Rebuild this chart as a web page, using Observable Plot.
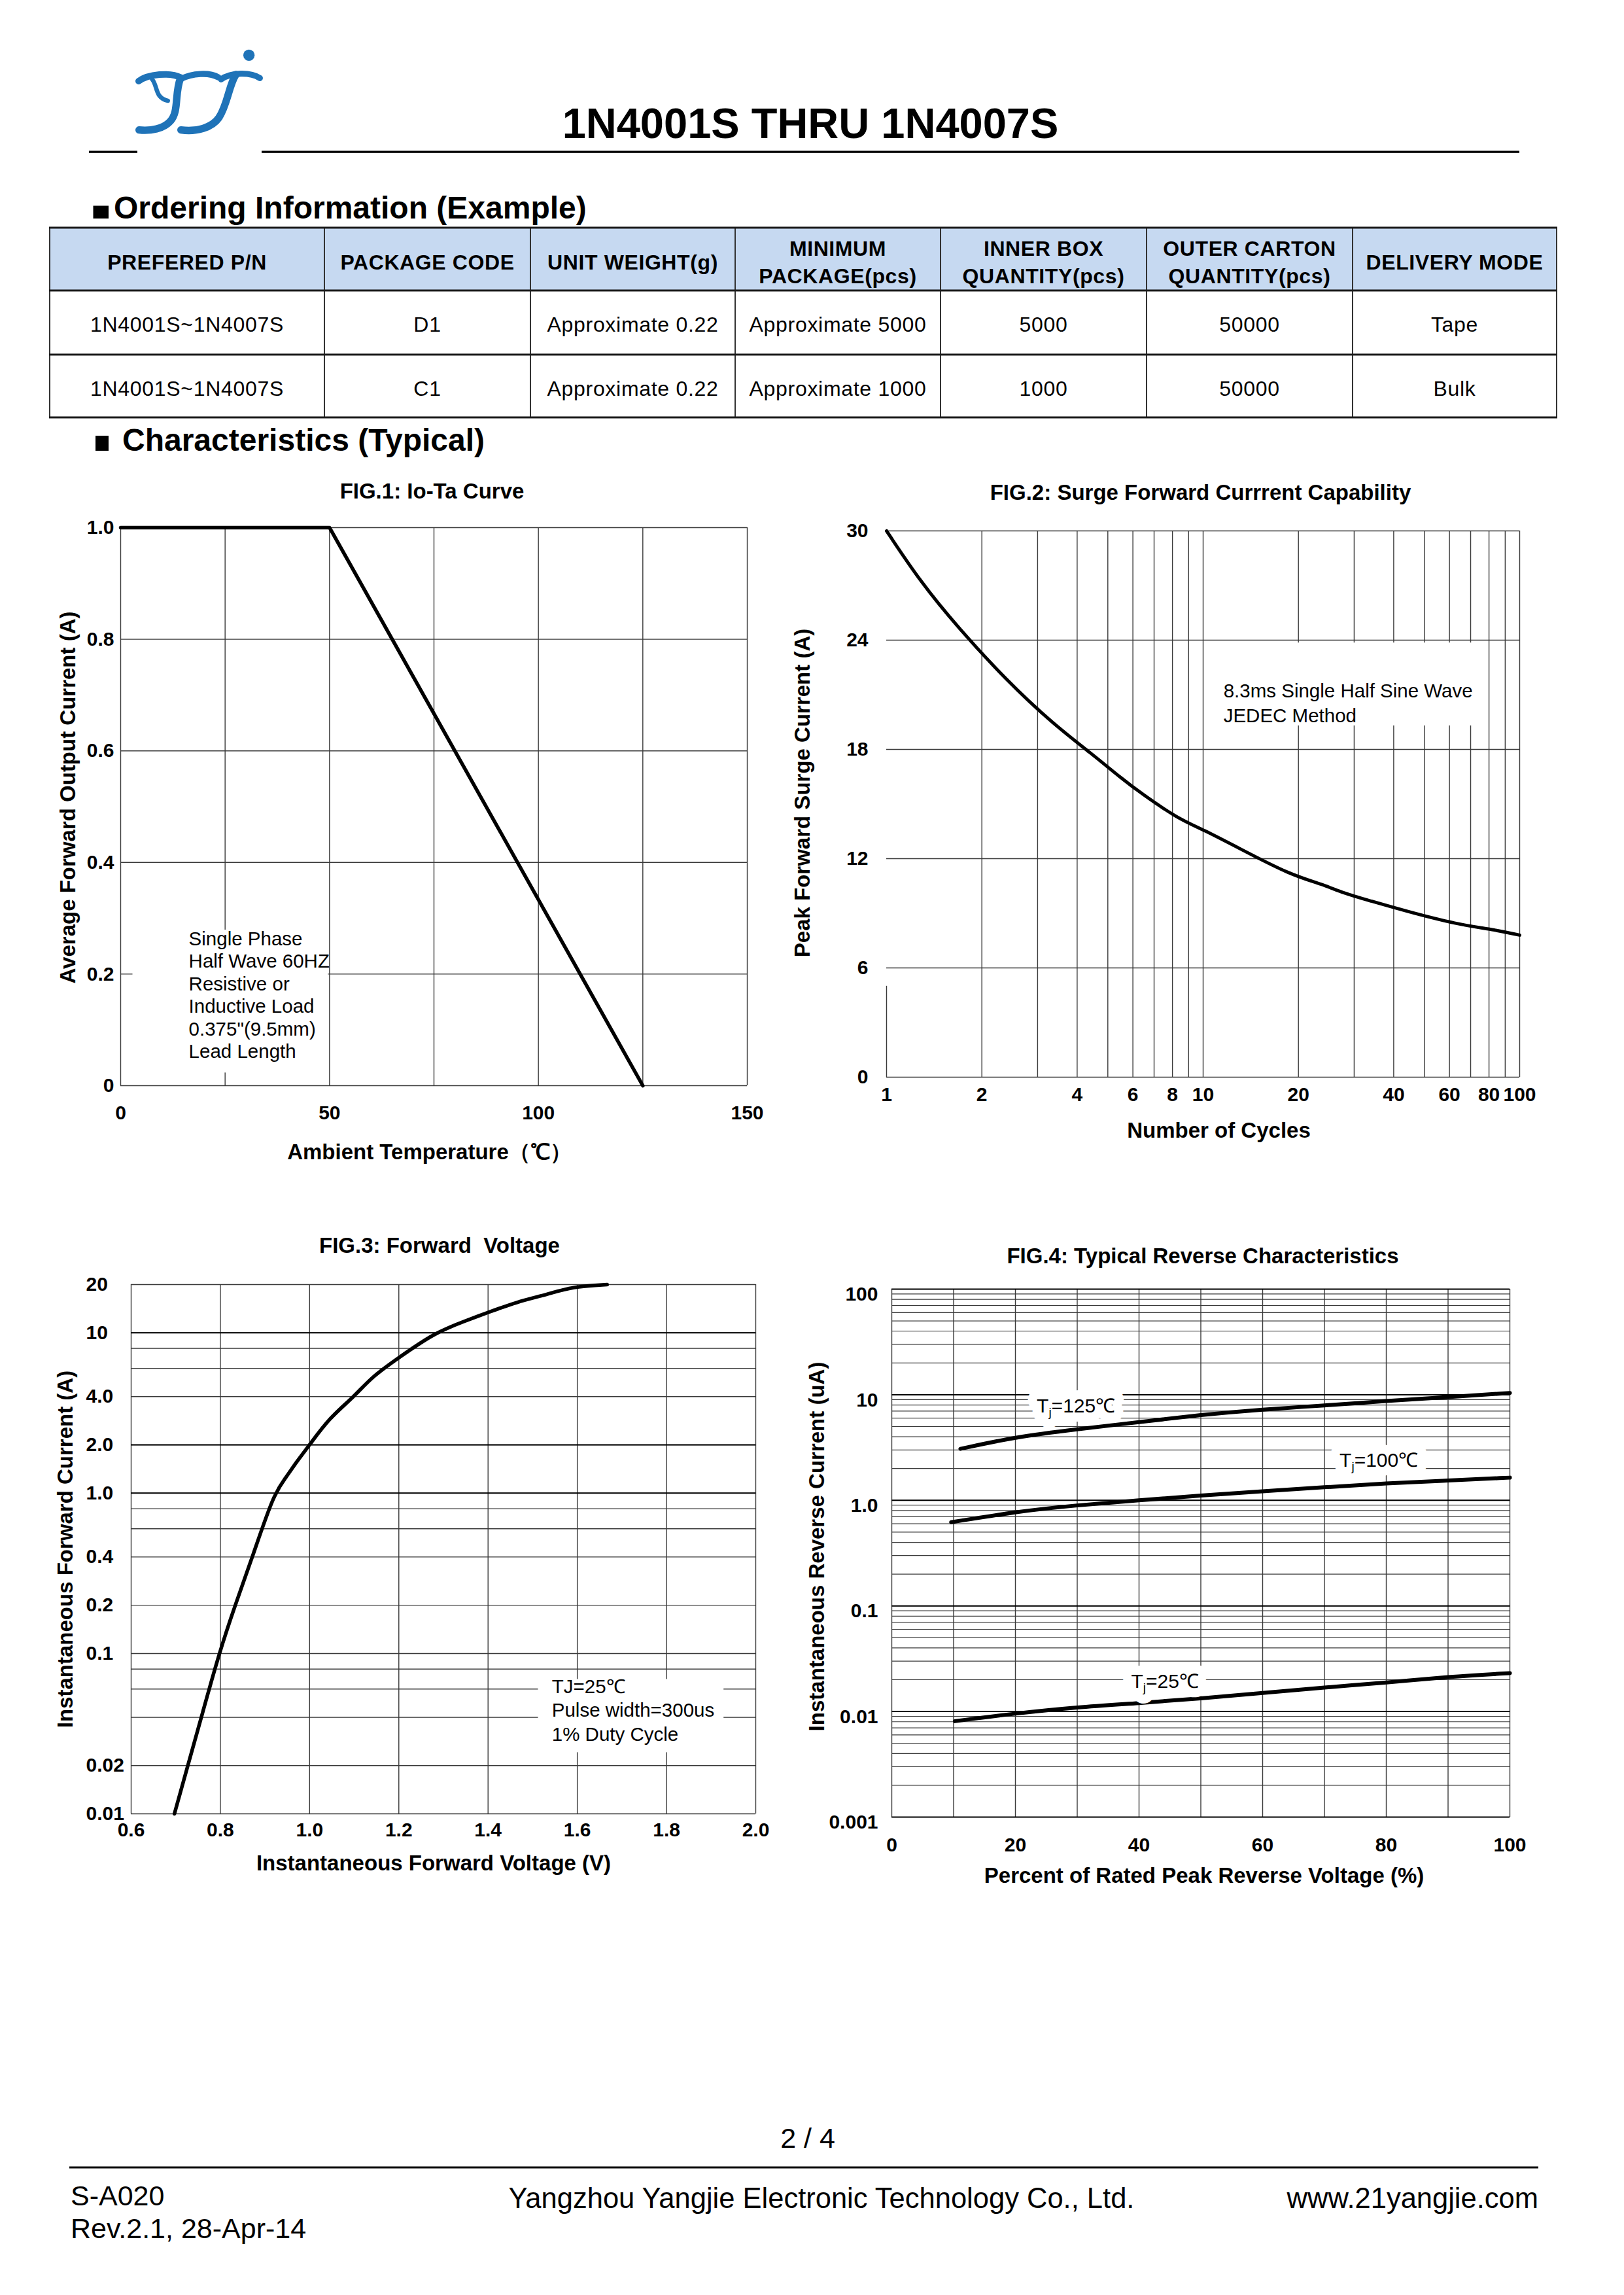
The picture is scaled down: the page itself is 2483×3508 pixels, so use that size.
<!DOCTYPE html>
<html><head><meta charset="utf-8">
<script src="https://cdn.jsdelivr.net/npm/d3@7"></script>
<script src="https://cdn.jsdelivr.net/npm/@observablehq/plot@0.6"></script>
<style>
html,body{margin:0;padding:0;background:#fff;}
#page{position:relative;width:2483px;height:3508px;background:#fff;overflow:hidden;}
.fig{position:absolute;}
</style></head><body><div id="page"></div>
<script>
// ---------------- DATA ----------------
// Ordering table
const tableHeaders = [["PREFERED P/N"],["PACKAGE CODE"],["UNIT WEIGHT(g)"],["MINIMUM","PACKAGE(pcs)"],["INNER BOX","QUANTITY(pcs)"],["OUTER CARTON","QUANTITY(pcs)"],["DELIVERY MODE"]];
const tableRow1 = ["1N4001S~1N4007S","D1","Approximate 0.22","Approximate 5000","5000","50000","Tape"];
const tableRow2 = ["1N4001S~1N4007S","C1","Approximate 0.22","Approximate 1000","1000","50000","Bulk"];

// FIG.1 Io-Ta curve
const fig1Temp = [0, 50, 125];
const fig1Current = [1.0, 1.0, 0];
const fig1XTicks = [0, 50, 100, 150];
const fig1YTicks = [0, 0.2, 0.4, 0.6, 0.8, 1.0];
const fig1YTickLabels = ["0", "0.2", "0.4", "0.6", "0.8", "1.0"];
const fig1XGrid = [0, 25, 50, 75, 100, 125, 150];
const fig1YGrid = [0, 0.2, 0.4, 0.6, 0.8, 1.0];

// FIG.2 Surge forward current (cycles read on the log decades 1 / 10 / 100)
const fig2Cycles = [1, 1.28, 1.68, 2.39, 3.36, 4.42, 5.53, 6.36, 8.32, 10, 12.9, 18.9, 23.8, 27.8, 33.5, 44.1, 63.2, 83, 100];
const fig2Current = [30, 27.2, 24.7, 21.8, 19.4, 17.8, 16.4, 15.6, 14.2, 13.6, 12.6, 11.1, 10.6, 10.1, 9.7, 9.1, 8.4, 8.1, 7.8];
const fig2XTicks = [1, 2, 4, 6, 8, 10, 20, 40, 60, 80, 100];
const fig2YTicks = [0, 6, 12, 18, 24, 30];
const fig2XGrid = [2, 3, 4, 5, 6, 7, 8, 9, 10, 20, 30, 40, 50, 60, 70, 80, 90, 100];
const fig2YGrid = [0, 6, 12, 18, 24, 30];

// FIG.3 Forward voltage
const fig3Voltage = [0.697, 0.727, 0.76, 0.797, 0.833, 0.872, 0.92, 0.948, 0.97, 1.0, 1.044, 1.10, 1.14, 1.20, 1.28, 1.35, 1.40, 1.465, 1.524, 1.556, 1.60, 1.667];
const fig3Current = [0.01, 0.02, 0.0425, 0.1, 0.2, 0.4, 1.0, 1.26, 1.56, 2.0, 2.94, 4.0, 5.33, 7.0, 10, 11.9, 13.4, 15.6, 17.1, 18.2, 19.5, 20];
const fig3XTicks = [0.6, 0.8, 1.0, 1.2, 1.4, 1.6, 1.8, 2.0];
const fig3XTickLabels = ["0.6", "0.8", "1.0", "1.2", "1.4", "1.6", "1.8", "2.0"];
const fig3YTicks = [20, 10, 4, 2, 1, 0.4, 0.2, 0.1, 0.02, 0.01];
const fig3YTickLabels = ["20", "10", "4.0", "2.0", "1.0", "0.4", "0.2", "0.1", "0.02", "0.01"];
const fig3XGrid = [0.6, 0.8, 1.0, 1.2, 1.4, 1.6, 1.8, 2.0];
const fig3YGrid = [0.01, 0.02, 0.04, 0.06, 0.08, 0.1, 0.2, 0.4, 0.6, 0.8, 1, 2, 4, 6, 8, 10, 20];
const fig3YGridBold = [1, 2, 10];

// FIG.4 Reverse characteristics
const fig4Pct125 = [11.1, 20, 30, 40, 50, 60, 70, 80, 90, 100];
const fig4Cur125 = [3.07, 3.98, 4.72, 5.5, 6.45, 7.27, 7.9, 8.75, 9.5, 10.4];
const fig4Pct100 = [9.6, 20, 30, 40, 50, 60, 70, 80, 90, 100];
const fig4Cur100 = [0.62, 0.78, 0.90, 1.0, 1.11, 1.22, 1.33, 1.45, 1.54, 1.64];
const fig4Pct25 = [10.2, 20, 30, 40, 50, 60, 70, 80, 90, 100];
const fig4Cur25 = [0.0081, 0.0096, 0.011, 0.012, 0.0133, 0.015, 0.0169, 0.0188, 0.0213, 0.0231];
const fig4XTicks = [0, 20, 40, 60, 80, 100];
const fig4YTicks = [100, 10, 1, 0.1, 0.01, 0.001];
const fig4YTickLabels = ["100", "10", "1.0", "0.1", "0.01", "0.001"];
const fig4XGrid = [0, 10, 20, 30, 40, 50, 60, 70, 80, 90, 100];
const fig4Decades = [0.001, 0.01, 0.1, 1, 10, 100];

// ---------------- ANNOTATIONS (data units) ----------------
const fig1Note = {text: "Single Phase\nHalf Wave 60HZ\nResistive or\nInductive Load\n0.375\"(9.5mm)\nLead Length", x: 16.3, y: 0.1635, x1: 2.9, x2: 49.7, y1: 0.023, y2: 0.279};
const fig2Note = {text: "8.3ms Single Half Sine Wave\nJEDEC Method", x: 11.6, y: 20.6, x1: 11.2, x2: 75, y1: 19.3, y2: 23.85};
const fig3Note = {text: "TJ=25\u2103\nPulse width=300us\n1% Duty Cycle", x: 1.543, y: 0.0449, x1: 1.5126, x2: 1.9285, y1: 0.0241, y2: 0.069};
const fig4Labels = [{text: "Tj=125\u2103", x: 29.8, y: 7.76}, {text: "Tj=100\u2103", x: 78.8, y: 2.4}, {text: "Tj=25\u2103", x: 44.2, y: 0.0193}];

// ---------------- PAGE ----------------
const FONT = '"Liberation Sans", Arial, Helvetica, sans-serif';
const page = d3.select("#page");
const ps = page.append("svg").attr("width", 2483).attr("height", 3508)
  .style("position", "absolute").style("left", "0px").style("top", "0px")
  .attr("font-family", FONT);

// logo
const logo = ps.append("g").attr("transform", "translate(120,50) scale(0.3333)")
  .attr("fill", "none").attr("stroke", "#1F73B8").attr("stroke-linecap", "round");
logo.append("path").attr("d", "M276,222 C320,190 420,180 470,206").attr("stroke-width", 30);
logo.append("path").attr("d", "M338,214 C364,244 350,300 410,312").attr("stroke-width", 20);
logo.append("path").attr("d", "M468,208 C440,280 462,360 422,405 C392,440 330,452 278,446").attr("stroke-width", 34);
logo.append("path").attr("d", "M470,212 C520,186 600,180 642,205").attr("stroke-width", 28);
logo.append("path").attr("d", "M722,192 C690,240 684,330 644,390 C612,436 540,456 470,446").attr("stroke-width", 34);
logo.append("path").attr("d", "M654,214 C700,180 790,180 832,208").attr("stroke-width", 28);
logo.append("circle").attr("cx", 782).attr("cy", 103).attr("r", 26).attr("fill", "#1F73B8").attr("stroke", "none");

// title + header line
ps.append("text").attr("x", 1239).attr("y", 211).attr("text-anchor", "middle")
  .attr("font-size", 65).attr("font-weight", "bold").text("1N4001S THRU 1N4007S");
ps.append("rect").attr("x", 136).attr("y", 230.5).attr("width", 74).attr("height", 3.3).attr("fill", "#000");
ps.append("rect").attr("x", 400).attr("y", 230.5).attr("width", 1923).attr("height", 3.3).attr("fill", "#000");

// section headings
ps.append("rect").attr("x", 142.5).attr("y", 314.5).attr("width", 23.5).attr("height", 19.5).attr("fill", "#000");
ps.append("text").attr("x", 174).attr("y", 334).attr("font-size", 48).attr("font-weight", "bold").text("Ordering Information (Example)");
ps.append("rect").attr("x", 146).attr("y", 666).attr("width", 20).attr("height", 23).attr("fill", "#000");
ps.append("text").attr("x", 187).attr("y", 689).attr("font-size", 48).attr("font-weight", "bold").text("Characteristics (Typical)");

// table
const colEdges = [76, 496, 811, 1124, 1438, 1753, 2068, 2380];
const rowEdges = [348, 444, 542, 638];
ps.append("rect").attr("x", 76).attr("y", 348).attr("width", 2304).attr("height", 96).attr("fill", "#C6D9F1");
colEdges.forEach(x => ps.append("line").attr("x1", x).attr("x2", x).attr("y1", 348).attr("y2", 638).attr("stroke", "#333").attr("stroke-width", 2));
rowEdges.forEach(y => ps.append("line").attr("x1", 75).attr("x2", 2381).attr("y1", y).attr("y2", y).attr("stroke", "#1a1a1a").attr("stroke-width", 3));
tableHeaders.forEach((lines, i) => {
  const cx = (colEdges[i] + colEdges[i + 1]) / 2;
  const ys = lines.length === 1 ? [412] : [391, 433];
  lines.forEach((t, j) => ps.append("text").attr("x", cx).attr("y", ys[j]).attr("text-anchor", "middle")
    .attr("font-size", 32).attr("font-weight", "bold").attr("letter-spacing", 0.6).text(t));
});
[[tableRow1, 507], [tableRow2, 605]].forEach(([row, by]) => row.forEach((t, i) => {
  const cx = (colEdges[i] + colEdges[i + 1]) / 2;
  ps.append("text").attr("x", cx).attr("y", by).attr("text-anchor", "middle")
    .attr("font-size", 32).attr("letter-spacing", 0.7).text(t);
}));

// footer
ps.append("text").attr("x", 1235).attr("y", 3283).attr("text-anchor", "middle").attr("font-size", 43).text("2 / 4");
ps.append("rect").attr("x", 106).attr("y", 3311.5).attr("width", 2246).attr("height", 3).attr("fill", "#000");
ps.append("text").attr("x", 108).attr("y", 3371).attr("font-size", 43).text("S-A020");
ps.append("text").attr("x", 108).attr("y", 3421).attr("font-size", 43).text("Rev.2.1, 28-Apr-14");
ps.append("text").attr("x", 1256).attr("y", 3375).attr("text-anchor", "middle").attr("font-size", 43.5).text("Yangzhou Yangjie Electronic Technology Co., Ltd.");
ps.append("text").attr("x", 2352).attr("y", 3375).attr("text-anchor", "end").attr("font-size", 43.5).text("www.21yangjie.com");

// ---------------- CHARTS ----------------
const STYLE = `font-family:${FONT};font-size:30px;font-weight:bold;background:transparent;overflow:visible;max-width:none;color:#000;`;
const GRID = {stroke: "#3a3a3a", strokeWidth: 1.4};
const fmtMap = (ticks, labels) => { const m = new Map(ticks.map((t, i) => [t, labels[i]])); return d => m.get(d); };
const LBL = {textAnchor: "middle", lineAnchor: "middle", fontSize: 33};

function place(node, left, top) {
  page.append("div").attr("class", "fig").style("left", left + "px").style("top", top + "px").node().appendChild(node);
}

// FIG 1
{
  const m = {l: 150, t: 90, r: 50, b: 140}, W = 958, H = 853;
  const rows = fig1Temp.map((t, i) => ({t, a: fig1Current[i]}));
  const p = Plot.plot({
    width: m.l + W + m.r, height: m.t + H + m.b,
    marginLeft: m.l, marginRight: m.r, marginTop: m.t, marginBottom: m.b,
    style: STYLE,
    x: {domain: [0, 150]}, y: {domain: [0, 1]},
    marks: [
      Plot.ruleX(fig1XGrid, GRID),
      Plot.ruleY(fig1YGrid, GRID),
      Plot.rect([fig1Note], {x1: "x1", x2: "x2", y1: "y1", y2: "y2", fill: "white"}),
      Plot.line(rows, {x: "t", y: "a", stroke: "#000", strokeWidth: 5.5}),
      Plot.text([fig1Note], {x: "x", y: "y", text: "text", textAnchor: "start", lineAnchor: "middle", lineHeight: 1.17, fontWeight: "normal", fontSize: 29.5}),
      Plot.axisX(fig1XTicks, {tickSize: 0, tickPadding: 30, tickFormat: d => String(d), label: null}),
      Plot.axisY(fig1YTicks, {tickSize: 0, tickPadding: 10, tickFormat: fmtMap(fig1YTicks, fig1YTickLabels), label: null}),
      Plot.text(["FIG.1: Io-Ta Curve"], {...LBL, text: d => d, frameAnchor: "top", dy: -55, dx: -3}),
      Plot.text(["Ambient Temperature\uFF08\u2103\uFF09"], {...LBL, text: d => d, frameAnchor: "bottom", dy: 102, dx: -7}),
      Plot.text(["Average Forward Output Current (A)"], {...LBL, text: d => d, frameAnchor: "left", rotate: -90, dx: -80, dy: -14})
    ]
  });
  place(p, 184 - m.l, 806 - m.t);
}

// FIG 2
{
  const m = {l: 170, t: 90, r: 60, b: 130}, W = 968, H = 835;
  const rows = fig2Cycles.map((c, i) => ({c, a: fig2Current[i]}));
  const p = Plot.plot({
    width: m.l + W + m.r, height: m.t + H + m.b,
    marginLeft: m.l, marginRight: m.r, marginTop: m.t, marginBottom: m.b,
    style: STYLE,
    x: {type: "log", domain: [1, 100], axis: null}, y: {domain: [0, 30]},
    marks: [
      Plot.ruleX(fig2XGrid, GRID),
      Plot.ruleX([1], {...GRID, y1: 0, y2: 5}),
      Plot.ruleY(fig2YGrid, GRID),
      Plot.rect([fig2Note], {x1: "x1", x2: "x2", y1: "y1", y2: "y2", fill: "white"}),
      Plot.line(rows, {x: "c", y: "a", stroke: "#000", strokeWidth: 5, curve: "basis"}),
      Plot.text([fig2Note], {x: "x", y: "y", text: "text", textAnchor: "start", lineAnchor: "middle", lineHeight: 1.26, fontWeight: "normal", fontSize: 29.5}),
      Plot.text(fig2XTicks, {x: d => d, text: d => String(d), frameAnchor: "bottom", textAnchor: "middle", lineAnchor: "top", dy: 15}),
      Plot.axisY(fig2YTicks, {tickSize: 0, tickPadding: 28, tickFormat: d => String(d), label: null}),
      Plot.text(["FIG.2: Surge Forward Currrent Capability"], {...LBL, text: d => d, frameAnchor: "top", dy: -58, dx: -4}),
      Plot.text(["Number of Cycles"], {...LBL, text: d => d, frameAnchor: "bottom", dy: 82, dx: 24}),
      Plot.text(["Peak Forward Surge Current (A)"], {...LBL, text: d => d, frameAnchor: "left", rotate: -90, dx: -128, dy: -17})
    ]
  });
  place(p, 1355 - m.l, 811 - m.t);
}

// FIG 3
{
  const m = {l: 150, t: 90, r: 60, b: 120}, W = 955, H = 809;
  const rows = fig3Voltage.map((v, i) => ({v, a: fig3Current[i]}));
  const p = Plot.plot({
    width: m.l + W + m.r, height: m.t + H + m.b,
    marginLeft: m.l, marginRight: m.r, marginTop: m.t, marginBottom: m.b,
    style: STYLE,
    x: {domain: [0.6, 2.0]}, y: {type: "log", domain: [0.01, 20]},
    marks: [
      Plot.ruleX(fig3XGrid, GRID),
      Plot.ruleY(fig3YGrid, GRID),
      Plot.ruleY(fig3YGridBold, {stroke: "#000", strokeWidth: 2}),
      Plot.rect([fig3Note], {x1: "x1", x2: "x2", y1: "y1", y2: "y2", fill: "white"}),
      Plot.line(rows, {x: "v", y: "a", stroke: "#000", strokeWidth: 5.5, curve: "basis"}),
      Plot.text([fig3Note], {x: "x", y: "y", text: "text", textAnchor: "start", lineAnchor: "middle", lineHeight: 1.23, fontWeight: "normal", fontSize: 29.5}),
      Plot.axisX(fig3XTicks, {tickSize: 0, tickPadding: 13, tickFormat: fmtMap(fig3XTicks, fig3XTickLabels), label: null}),
      Plot.axisY(fig3YTicks, {tickSize: 0, tickPadding: 69, textAnchor: "start", tickFormat: fmtMap(fig3YTicks, fig3YTickLabels), label: null}),
      Plot.text(["FIG.3: Forward  Voltage"], {...LBL, text: d => d, frameAnchor: "top", dy: -59, dx: -6}),
      Plot.text(["Instantaneous Forward Voltage (V)"], {...LBL, text: d => d, frameAnchor: "bottom", dy: 76, dx: -15}),
      Plot.text(["Instantaneous Forward Current (A)"], {...LBL, text: d => d, frameAnchor: "left", rotate: -90, dx: -100, dy: 0})
    ]
  });
  place(p, 200 - m.l, 1963 - m.t);
}

// FIG 4
{
  const m = {l: 160, t: 80, r: 60, b: 130}, W = 945, H = 807;
  const fig4YGrid = [];
  for (const e of [0.001, 0.01, 0.1, 1, 10]) for (let k = 1; k < 10; k++) fig4YGrid.push(+(k * e).toPrecision(3));
  fig4YGrid.push(100);
  const series = [
    ...fig4Pct125.map((x, i) => ({s: "125", x, y: fig4Cur125[i]})),
    ...fig4Pct100.map((x, i) => ({s: "100", x, y: fig4Cur100[i]})),
    ...fig4Pct25.map((x, i) => ({s: "25", x, y: fig4Cur25[i]}))
  ];
  const p = Plot.plot({
    width: m.l + W + m.r, height: m.t + H + m.b,
    marginLeft: m.l, marginRight: m.r, marginTop: m.t, marginBottom: m.b,
    style: STYLE,
    x: {domain: [0, 100]}, y: {type: "log", domain: [0.001, 100]},
    marks: [
      Plot.ruleX(fig4XGrid, GRID),
      Plot.ruleY(fig4YGrid, {stroke: "#3a3a3a", strokeWidth: 1.2}),
      Plot.ruleY(fig4Decades, {stroke: "#000", strokeWidth: 2}),
      Plot.line(series, {x: "x", y: "y", z: "s", stroke: "#000", strokeWidth: 6, curve: "basis"}),
      Plot.text(fig4Labels, {x: "x", y: "y", text: "text", textAnchor: "middle", lineAnchor: "middle", stroke: "white", strokeWidth: 28, fill: "white", fontWeight: "normal", fontSize: 30}),
      Plot.text(fig4Labels, {x: "x", y: "y", text: "text", textAnchor: "middle", lineAnchor: "middle", fill: "#000", fontWeight: "normal", fontSize: 30}),
      Plot.axisX(fig4XTicks, {tickSize: 0, tickPadding: 31, tickFormat: d => String(d), label: null}),
      Plot.axisY(fig4YTicks, {tickSize: 0, tickPadding: 21, dy: 8, tickFormat: fmtMap(fig4YTicks, fig4YTickLabels), label: null}),
      Plot.text(["FIG.4: Typical Reverse Characteristics"], {...LBL, text: d => d, frameAnchor: "top", dy: -50, dx: 3}),
      Plot.text(["Percent of Rated Peak Reverse Voltage (%)"], {...LBL, text: d => d, frameAnchor: "bottom", dy: 90, dx: 5}),
      Plot.text(["Instantaneous Reverse Current (uA)"], {...LBL, text: d => d, frameAnchor: "left", rotate: -90, dx: -114, dy: -10})
    ]
  });
  d3.select(p).selectAll("text").each(function () {
    const t = this.textContent;
    const mm = /^Tj(=.*)$/.exec(t);
    if (mm) {
      const s = d3.select(this);
      s.text(null);
      s.append("tspan").text("T");
      s.append("tspan").attr("font-size", "19px").attr("dy", "6").text("j");
      s.append("tspan").attr("dy", "-6").text(mm[1]);
    }
  });
  place(p, 1363 - m.l, 1970 - m.t);
}
</script>
</body></html>
